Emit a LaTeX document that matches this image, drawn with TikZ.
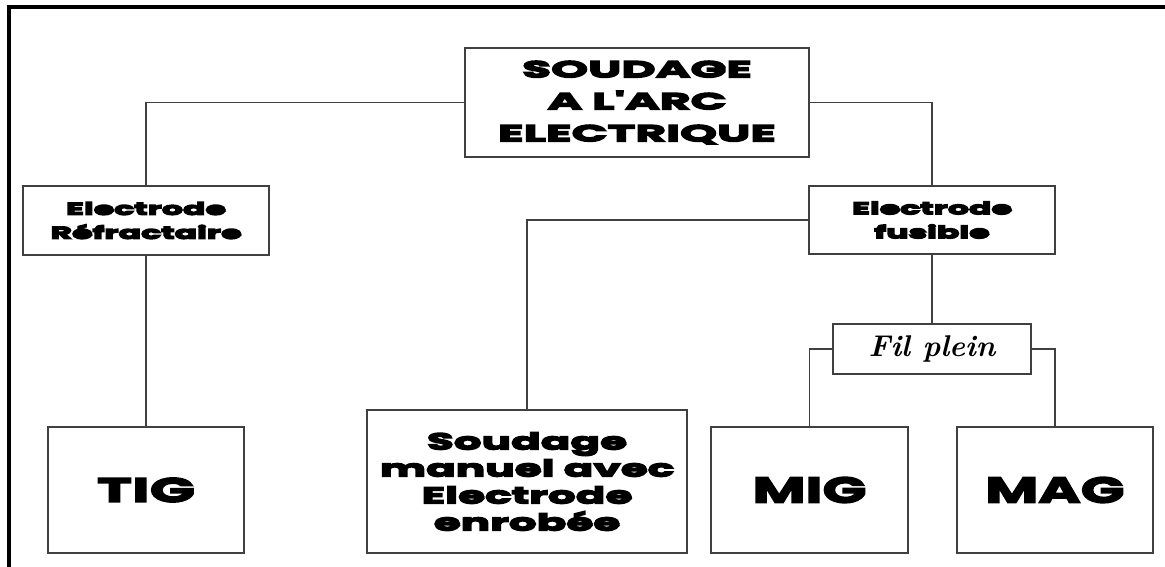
\documentclass[tikz,border=0pt]{standalone}
\usepackage{fontspec}
\newfontfamily\heavytop{Poppins}[FakeStretch=2.05]
\newfontfamily\heavysmall{Poppins}[FakeStretch=1.95]
\newfontfamily\heavyman{Poppins}[FakeStretch=1.9]
\newfontfamily\heavytig{Poppins}[FakeStretch=1.75]
\newfontfamily\heavybig{Poppins}[FakeStretch=1.6]
\newcommand{\thick}[1]{\special{pdf:literal direct 2 Tr 1.5 w 0 G}#1\special{pdf:literal direct 0 Tr}}
\usetikzlibrary{positioning}
\tikzset{
  box/.style={draw=black!75,line width=1.3pt,fill=white,inner sep=0pt,align=center,text=black},
  link/.style={draw=black!75,line width=1.3pt},
}
\begin{document}
\begin{tikzpicture}[x=1pt,y=-1pt]
\useasboundingbox (0,0) rectangle (1165,567);
\draw[line width=4pt,line cap=rect] (9,570) -- (9,7) -- (1170,7);
\node[box,minimum width=344,minimum height=109,font=\heavytop\bfseries\fontsize{23}{32}\selectfont] (top) at (637,102.5) {\thick{SOUDAGE}\\\thick{A L'ARC}\\\thick{ELECTRIQUE}};
\node[box,minimum width=246,minimum height=69,font=\heavysmall\bfseries\fontsize{17}{24}\selectfont] (refr) at (146,220.5) {\thick{Electrode}\\\thick{Réfractaire}};
\node[box,minimum width=196,minimum height=126,font=\heavytig\bfseries\fontsize{34}{40}\selectfont] (tig) at (146,490) {\thick{TIG}};
\node[box,minimum width=246,minimum height=68,font=\heavysmall\bfseries\fontsize{17}{24}\selectfont] (fus) at (932,220) {\thick{Electrode}\\\thick{fusible}};
\node[box,minimum width=320,minimum height=143,font=\heavyman\bfseries\fontsize{23}{27}\selectfont] (man) at (527,481.5) {\thick{Soudage}\\\thick{manuel avec}\\\thick{Electrode}\\\thick{enrobée}};
\node[box,minimum width=198,minimum height=50,font=\fontsize{30}{32}\selectfont\bfseries\itshape] (fil) at (932,349) {Fil plein};
\node[box,minimum width=197,minimum height=126,font=\heavybig\bfseries\fontsize{36}{40}\selectfont] (mig) at (809.5,490) {\thick{MIG}};
\node[box,minimum width=196,minimum height=126,font=\heavybig\bfseries\fontsize{36}{40}\selectfont] (mag) at (1055,490) {\thick{MAG}};
\draw[link] (top.west) -| (refr.north);
\draw[link] (top.east) -| (fus.north);
\draw[link] (refr.south) -- (tig.north);
\draw[link] (fus.west) -| (man.north);
\draw[link] (fus.south) -- (fil.north);
\draw[link] (fil.west) -| (mig.north);
\draw[link] (fil.east) -| (mag.north);
\end{tikzpicture}
\end{document}
